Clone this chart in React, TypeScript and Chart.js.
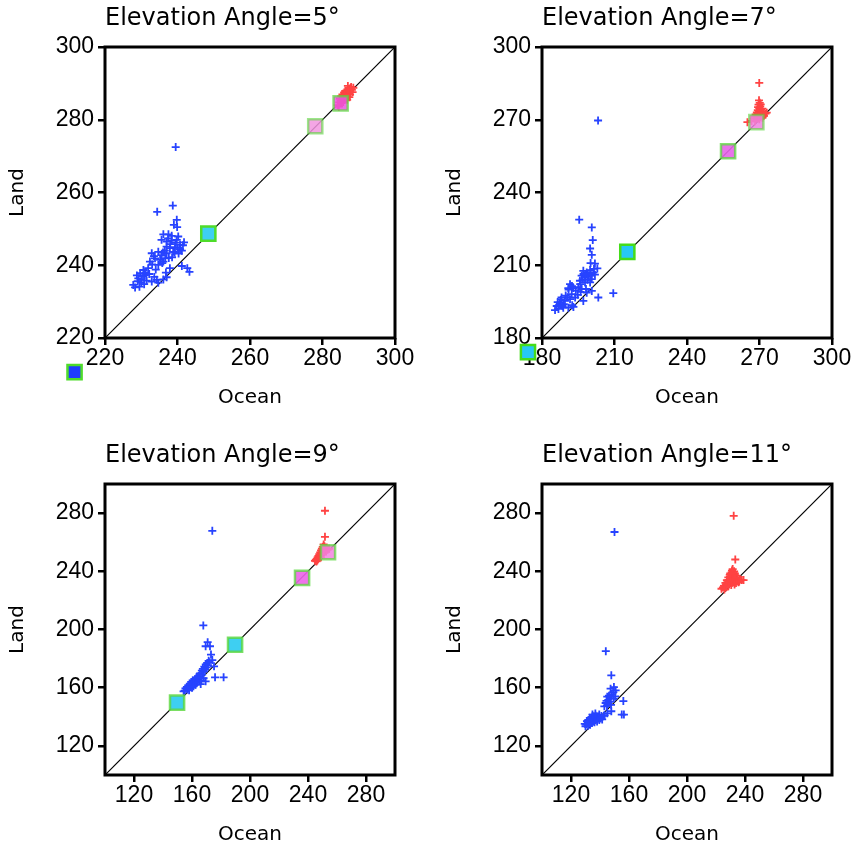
import React, { useEffect, useRef } from 'react';
import { Chart, registerables } from 'chart.js';

Chart.register(...registerables);

type P = [number, number];

// ---------- titles & axes ----------
const panelTitles = ['Elevation Angle=5°', 'Elevation Angle=7°', 'Elevation Angle=9°', 'Elevation Angle=11°'];
const xAxisTitle = 'Ocean';
const yAxisTitle = 'Land';

const range5: P = [220, 300];
const range7: P = [180, 300];
const range9: P = [100, 300];
const range11: P = [100, 300];

const ticks5 = [220, 240, 260, 280, 300];
const ticks7 = [180, 210, 240, 270, 300];
const ticks9 = [120, 160, 200, 240, 280];
const ticks11 = [120, 160, 200, 240, 280];

// ---------- Elevation 5° ----------
const blue5: P[] = [
  [239.5, 272.5], [238.7, 256.4], [234.4, 254.7], [239.8, 252.5], [239.0, 251.1], [239.9, 250.5],
  [236.1, 248.5], [237.5, 248.5], [238.4, 248.1], [240.2, 247.9], [235.6, 247.0], [237.0, 246.5],
  [238.4, 246.8], [239.8, 247.0], [240.7, 245.6], [237.0, 245.1], [237.9, 244.7], [239.3, 245.0],
  [240.7, 244.4], [241.2, 244.0], [232.9, 243.3], [234.7, 243.7], [235.6, 242.8], [237.0, 243.3],
  [238.8, 243.7], [233.8, 241.9], [235.2, 241.5], [236.6, 241.9], [232.4, 241.0], [234.7, 240.1],
  [236.1, 241.0], [237.9, 239.2], [230.6, 238.7], [231.9, 239.2], [229.7, 237.8], [231.0, 237.3],
  [241.2, 239.8], [242.7, 239.2], [243.3, 238.2], [229.2, 236.4], [230.1, 236.0], [231.5, 235.8],
  [232.9, 235.5], [234.3, 236.0], [234.7, 235.2], [227.8, 234.6], [228.3, 233.9], [229.5, 234.1],
  [237.0, 236.7], [236.1, 236.1], [230.5, 237.0], [231.2, 238.0], [230.0, 235.2], [236.5, 244.0],
  [238.0, 245.8], [239.5, 246.2], [240.0, 244.8], [236.0, 243.5], [233.5, 242.5], [241.5, 245.5],
  [233.0, 240.2], [235.8, 240.6], [238.5, 242.2], [240.3, 243.2], [239.2, 243.6], [237.6, 242.0],
  [234.0, 238.8], [232.2, 237.6], [229.0, 235.6], [230.8, 234.8], [233.6, 236.8], [228.8, 237.2],
  [237.4, 247.4], [241.8, 246.3], [236.8, 238.0],
];
const red5: P[] = [
  [284.2, 284.0], [284.6, 284.8], [285.0, 285.3], [285.3, 284.6], [285.6, 285.9], [285.9, 286.3],
  [286.2, 285.7], [286.4, 286.8], [286.7, 287.2], [286.9, 286.4], [287.1, 287.8], [287.3, 288.3],
  [287.5, 287.5], [287.7, 288.7], [287.9, 289.0], [288.1, 288.2], [286.0, 287.5], [286.5, 288.0],
  [285.2, 286.5], [284.8, 285.8], [286.8, 285.5], [287.4, 286.2], [288.3, 287.6], [285.7, 284.9],
  [286.3, 287.9], [287.0, 289.3], [284.5, 283.6], [285.5, 287.0], [286.1, 286.9], [287.6, 286.9],
  [288.5, 288.8],
];
const squares5: P[] = [[211.6, 210.6], [248.5, 248.7], [278.0, 278.2], [285.0, 284.5]];
const squareFill5 = ['#1f3dff', '#3ecff2', 'rgba(242,150,224,0.85)', 'rgba(236,84,226,0.85)'];
const squareEdge5 = ['#4fdc2a', '#4fdc2a', 'rgba(90,215,60,0.6)', 'rgba(90,215,60,0.7)'];

// ---------- Elevation 7° ----------
const blue7: P[] = [
  [203.2, 269.7], [195.4, 228.8], [200.6, 225.6], [201.0, 220.4], [199.9, 216.9], [200.6, 214.3],
  [200.1, 210.9], [201.9, 210.7], [202.9, 208.7], [197.1, 207.7], [198.5, 207.0], [199.9, 208.0],
  [201.2, 207.0], [196.4, 205.7], [197.8, 205.0], [199.2, 205.2], [200.6, 204.3], [201.9, 206.1],
  [195.7, 203.6], [197.8, 202.9], [199.9, 202.9], [191.6, 202.2], [190.9, 200.6], [193.0, 200.6],
  [196.4, 200.2], [198.5, 198.7], [200.6, 199.4], [203.3, 196.7], [209.5, 198.5], [192.3, 198.1],
  [193.7, 196.7], [191.6, 196.0], [188.1, 196.7], [189.5, 195.3], [187.4, 194.6], [186.1, 193.2],
  [185.4, 191.5], [188.8, 192.5], [190.9, 192.5], [193.0, 192.8], [197.1, 195.3], [192.4, 201.4],
  [191.0, 200.0], [198.0, 206.0], [199.0, 206.5], [200.0, 205.8], [196.8, 204.2], [187.0, 193.5],
  [186.8, 192.0], [189.0, 194.0], [192.5, 193.5], [194.0, 199.5], [195.0, 201.0],
  [187.8, 195.8], [186.5, 194.8], [189.8, 197.5], [190.5, 196.8], [198.8, 204.0], [200.2, 206.8],
  [197.2, 206.4], [201.5, 208.5], [195.8, 202.2], [188.5, 193.2], [194.8, 197.8], [198.2, 200.2],
  [196.0, 199.0],
];
const red7: P[] = [
  [269.9, 285.2], [269.8, 278.0], [270.1, 277.0], [269.6, 276.2], [270.3, 275.5], [269.9, 274.8],
  [270.6, 274.3], [269.3, 274.0], [270.0, 273.6], [271.0, 273.5], [268.9, 273.0], [269.7, 272.9],
  [270.4, 272.7], [271.5, 272.8], [272.5, 272.5], [268.4, 272.2], [269.2, 272.0], [270.8, 271.9],
  [271.8, 271.6], [268.0, 271.3], [269.5, 271.2], [270.2, 271.0], [271.2, 270.8], [267.6, 270.5],
  [268.8, 270.4], [269.9, 270.2], [266.7, 269.5], [265.0, 269.0], [268.2, 269.4], [273.0, 272.9],
  [270.5, 276.3], [269.4, 275.2], [271.2, 274.6], [268.7, 271.6],
];
const squares7: P[] = [[174.2, 174.2], [215.3, 215.5], [257.0, 257.0], [268.7, 269.0]];
const squareFill7 = ['#27c8f5', '#27c8f5', 'rgba(230,100,232,0.9)', 'rgba(240,130,224,0.85)'];
const squareEdge7 = ['#45dc1a', '#45dc1a', 'rgba(90,215,60,0.75)', 'rgba(90,215,60,0.6)'];

// ---------- Elevation 9° ----------
const blue9: P[] = [
  [174.0, 267.8], [167.8, 202.8], [170.8, 191.3], [172.4, 188.5], [169.4, 188.5], [173.1, 182.8],
  [175.2, 174.7], [181.8, 167.1], [175.9, 167.1], [169.4, 164.4], [171.5, 178.5], [170.5, 177.0],
  [169.5, 176.0], [171.0, 175.5], [168.5, 174.5], [170.0, 174.0], [167.5, 173.0], [169.0, 172.5],
  [166.8, 171.8], [168.2, 171.0], [165.5, 169.8], [167.0, 169.0], [164.5, 168.0], [163.0, 167.0],
  [164.0, 166.0], [162.0, 165.8], [160.5, 165.0], [161.8, 164.2], [159.5, 164.0], [160.8, 163.0],
  [158.5, 162.8], [159.8, 162.0], [157.5, 161.5], [158.8, 160.8], [156.5, 160.5], [157.8, 159.8],
  [155.5, 159.5], [156.8, 158.8], [155.0, 158.0], [158.0, 158.2], [160.0, 160.0], [162.5, 162.0],
  [163.5, 163.5], [165.0, 164.5], [166.5, 165.0], [161.0, 161.0], [154.2, 157.5], [163.5, 166.8],
  [172.0, 177.5], [174.0, 179.0], [166.0, 162.5], [168.0, 166.5],
];
const red9: P[] = [
  [251.7, 281.6], [251.7, 263.7], [250.8, 258.5], [251.3, 257.2], [250.2, 256.8], [249.6, 255.5],
  [250.6, 255.2], [249.0, 254.3], [250.0, 253.8], [251.5, 254.5], [248.4, 253.0], [249.3, 252.6],
  [247.8, 251.8], [248.7, 251.4], [247.2, 250.6], [248.1, 250.2], [246.6, 249.6], [247.5, 249.1],
  [246.0, 248.6], [246.9, 248.2], [245.4, 247.8], [244.8, 247.2], [245.8, 246.8], [249.8, 251.5],
  [252.3, 256.0], [252.5, 253.6], [253.5, 254.8], [254.5, 255.5], [246.4, 247.4], [248.9, 249.7],
];
const squares9: P[] = [[149.7, 149.7], [189.7, 189.5], [235.9, 235.5], [253.8, 253.1]];
const squareFill9 = ['#3ecff2', '#3ecff2', 'rgba(236,100,232,0.9)', 'rgba(242,130,224,0.85)'];
const squareEdge9 = ['rgba(90,215,60,0.8)', 'rgba(90,215,60,0.8)', 'rgba(90,215,60,0.75)', 'rgba(90,215,60,0.7)'];

// ---------- Elevation 11° ----------
const blue11: P[] = [
  [150.0, 267.0], [144.0, 185.1], [147.8, 168.5], [149.6, 160.4], [147.3, 159.3], [150.8, 158.1],
  [149.2, 157.0], [148.0, 155.6], [146.2, 154.5], [145.0, 153.8], [147.0, 152.8], [145.8, 151.6],
  [144.5, 151.0], [146.5, 150.3], [143.9, 149.5], [145.5, 148.8], [147.6, 148.2], [144.8, 147.5],
  [143.0, 147.2], [149.5, 152.5], [150.5, 154.0], [156.1, 150.8], [155.0, 141.5], [156.5, 141.5],
  [147.8, 143.8], [145.0, 142.4], [142.7, 140.8], [141.0, 140.5], [139.5, 141.5], [138.5, 140.0],
  [137.0, 140.8], [136.0, 139.5], [135.2, 140.2], [134.0, 138.8], [133.0, 139.3], [137.8, 138.2],
  [136.5, 137.6], [135.0, 137.2], [133.8, 136.8], [132.5, 136.0], [131.5, 135.5], [130.5, 134.8],
  [130.0, 133.5], [131.8, 133.8], [133.2, 134.6], [134.5, 135.7], [136.2, 136.3], [138.0, 136.8],
  [139.5, 137.8], [140.5, 139.0], [132.0, 137.8], [134.8, 141.5], [136.8, 142.3], [129.5, 135.2],
  [131.0, 137.0], [141.5, 138.2], [143.2, 141.0],
];
const red11: P[] = [
  [232.2, 278.1], [233.3, 248.1], [231.5, 241.5], [232.5, 240.0], [230.8, 239.2], [233.0, 238.5],
  [231.8, 237.8], [229.5, 237.5], [234.2, 237.0], [230.5, 236.5], [232.5, 236.2], [228.5, 235.8],
  [235.0, 235.5], [231.0, 235.0], [233.5, 234.8], [229.8, 234.3], [227.5, 234.0], [236.5, 234.2],
  [232.0, 233.8], [234.5, 233.5], [230.2, 233.0], [228.0, 232.5], [237.8, 234.0], [226.5, 232.0],
  [231.5, 232.2], [233.8, 232.0], [229.0, 231.5], [235.5, 232.5], [227.3, 230.8], [230.5, 230.5],
  [225.5, 230.0], [228.5, 229.8], [224.8, 229.0], [226.8, 228.8], [223.8, 228.0], [225.8, 227.5],
  [232.8, 231.0], [236.0, 233.0], [239.0, 234.0], [229.8, 238.5], [231.0, 240.5],
];
const squares11: P[] = [];
const squareFill11: string[] = [];
const squareEdge11: string[] = [];

// ---------- styles ----------
const BLUE = '#2743ff';
const RED = '#ff4343';
const CANVAS_W = 416;
const CANVAS_H = 408;
const SQUARE_RADIUS = 10;
const SQUARE_BORDER = 2.5;

interface PanelDef {
  title: string;
  range: P;
  ticks: number[];
  blue: P[];
  red: P[];
  squares: P[];
  fill: string[];
  edge: string[];
  left: number;
  top: number;
}

const panels: PanelDef[] = [
  { title: panelTitles[0], range: range5, ticks: ticks5, blue: blue5, red: red5, squares: squares5, fill: squareFill5, edge: squareEdge5, left: 0, top: 0 },
  { title: panelTitles[1], range: range7, ticks: ticks7, blue: blue7, red: red7, squares: squares7, fill: squareFill7, edge: squareEdge7, left: 437, top: 0 },
  { title: panelTitles[2], range: range9, ticks: ticks9, blue: blue9, red: red9, squares: squares9, fill: squareFill9, edge: squareEdge9, left: 0, top: 437 },
  { title: panelTitles[3], range: range11, ticks: ticks11, blue: blue11, red: red11, squares: squares11, fill: squareFill11, edge: squareEdge11, left: 437, top: 437 },
];

// Frame round the plot area, and square markers that fall outside the plot area
// (Chart.js skips points outside chartArea, so those are drawn here at the scale's pixel positions).
const framePlugin = {
  id: 'frame',
  afterDatasetsDraw(chart: any) {
    const { ctx, chartArea } = chart;
    const meta = chart.getDatasetMeta(0);
    const ds = chart.data.datasets[0];
    ctx.save();
    meta.data.forEach((el: any, i: number) => {
      const inside = el.x >= chartArea.left && el.x <= chartArea.right && el.y >= chartArea.top && el.y <= chartArea.bottom;
      if (inside) return;
      const half = SQUARE_RADIUS * Math.SQRT1_2;
      ctx.beginPath();
      ctx.rect(el.x - half, el.y - half, 2 * half, 2 * half);
      ctx.fillStyle = ds.backgroundColor[i];
      ctx.fill();
      ctx.lineWidth = SQUARE_BORDER;
      ctx.strokeStyle = ds.borderColor[i];
      ctx.stroke();
    });
    ctx.restore();
  },
  afterDraw(chart: any) {
    const { ctx, chartArea } = chart;
    ctx.save();
    ctx.strokeStyle = '#000';
    ctx.lineWidth = 3;
    ctx.strokeRect(chartArea.left, chartArea.top, chartArea.right - chartArea.left, chartArea.bottom - chartArea.top);
    ctx.restore();
  },
};

const toXY = (pts: P[]) => pts.map(([x, y]) => ({ x, y }));

function Panel({ def }: { def: PanelDef }) {
  const ref = useRef<HTMLCanvasElement | null>(null);
  useEffect(() => {
    if (!ref.current) return;
    const [lo, hi] = def.range;
    const tickFont = { family: 'Liberation Sans', size: 23, weight: 'normal' as const };
    const titleFont = { family: 'DejaVu Sans', size: 20, lineHeight: 1, weight: 'normal' as const };
    const gridOpts = { drawOnChartArea: false, drawTicks: true, tickLength: 7, color: '#000', lineWidth: 2.5 };
    const setTicks = (scale: any) => {
      scale.ticks = def.ticks.map((v) => ({ value: v }));
    };
    const chart = new Chart(ref.current, {
      type: 'scatter',
      data: {
        datasets: [
          {
            data: toXY(def.squares),
            pointStyle: 'rect',
            pointRadius: SQUARE_RADIUS,
            pointHoverRadius: SQUARE_RADIUS,
            backgroundColor: def.fill,
            borderColor: def.edge,
            borderWidth: SQUARE_BORDER,
            order: 0,
          } as any,
          {
            data: toXY(def.red),
            pointStyle: 'cross',
            pointRadius: 4,
            borderColor: RED,
            backgroundColor: RED,
            borderWidth: 1.8,
            order: 1,
          },
          {
            data: toXY(def.blue),
            pointStyle: 'cross',
            pointRadius: 4,
            borderColor: BLUE,
            backgroundColor: BLUE,
            borderWidth: 1.8,
            order: 2,
          },
          {
            data: [{ x: lo, y: lo }, { x: hi, y: hi }],
            showLine: true,
            borderColor: '#000',
            borderWidth: 1.2,
            pointRadius: 0,
            order: 3,
          } as any,
        ],
      },
      options: {
        responsive: false,
        animation: false,
        events: [],
        layout: { padding: { left: 0, right: 21, top: 0, bottom: 0 } },
        plugins: {
          legend: { display: false },
          tooltip: { enabled: false },
          title: {
            display: true,
            text: def.title,
            align: 'start',
            fullSize: false,
            color: '#000',
            font: { family: 'DejaVu Sans', size: 24, lineHeight: 1, weight: 'normal' },
            padding: { top: 7, bottom: 16 },
          },
        },
        scales: {
          x: {
            type: 'linear',
            min: lo,
            max: hi,
            afterBuildTicks: setTicks,
            afterFit: (s: any) => {
              s.height = 70;
            },
            grid: gridOpts,
            border: { display: false },
            ticks: { color: '#000', padding: 0, font: tickFont, maxRotation: 0 },
            title: { display: true, text: xAxisTitle, color: '#000', font: titleFont, padding: { top: 0, bottom: 0 } },
          },
          y: {
            type: 'linear',
            min: lo,
            max: hi,
            afterBuildTicks: setTicks,
            afterFit: (s: any) => {
              s.width = 105;
            },
            grid: gridOpts,
            border: { display: false },
            ticks: { color: '#000', padding: 4, font: tickFont },
            title: { display: true, text: yAxisTitle, color: '#000', font: titleFont, padding: { top: 8, bottom: 0 } },
          },
        },
      } as any,
      plugins: [framePlugin],
    });
    return () => chart.destroy();
  }, [def]);
  return (
    <canvas
      ref={ref}
      width={CANVAS_W}
      height={CANVAS_H}
      style={{ position: 'absolute', left: def.left, top: def.top, width: CANVAS_W, height: CANVAS_H }}
    />
  );
}

export default function App() {
  return (
    <div style={{ position: 'absolute', left: 0, top: 0, width: 853, height: 846, overflow: 'hidden', background: '#fff' }}>
      {panels.map((p, i) => (
        <Panel key={i} def={p} />
      ))}
    </div>
  );
}
